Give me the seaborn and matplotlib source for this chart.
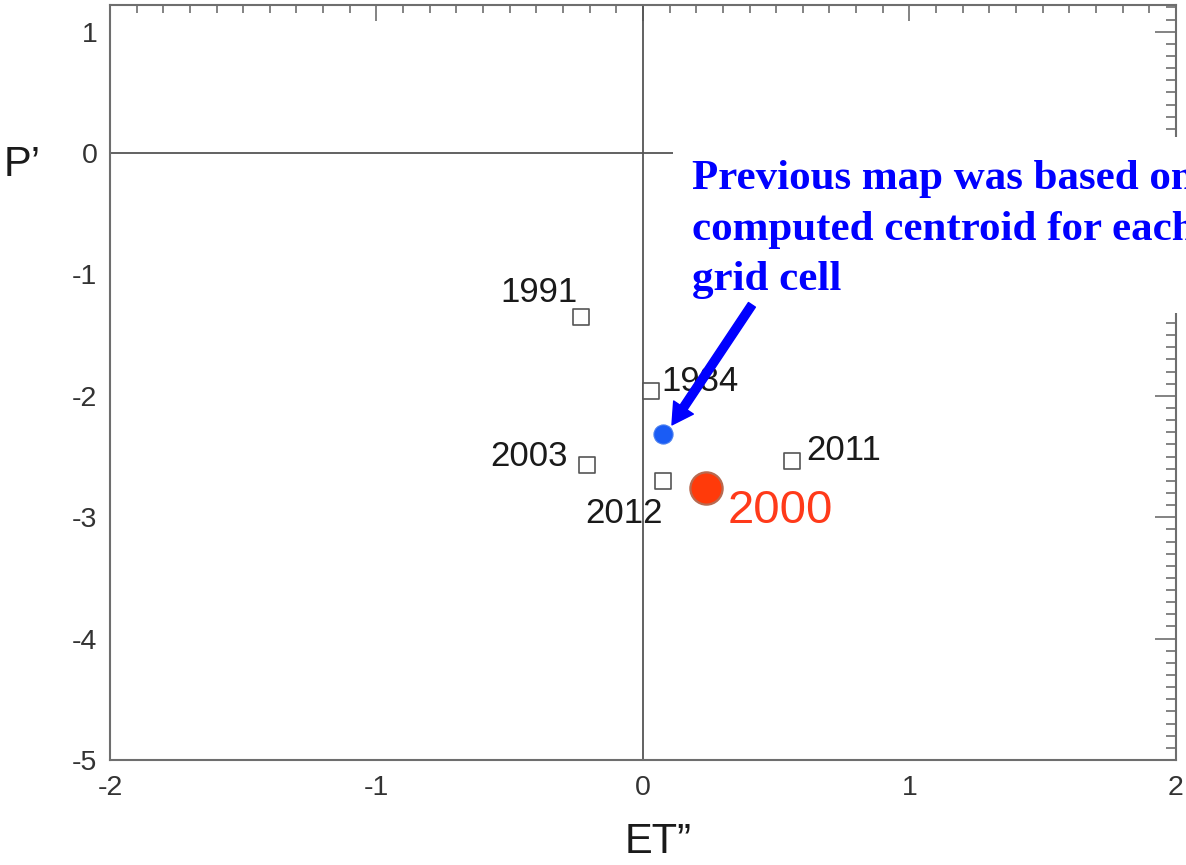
import matplotlib
matplotlib.use("Agg")
import matplotlib.pyplot as plt
from matplotlib.patches import Rectangle, FancyArrowPatch
from matplotlib.ticker import MultipleLocator
import seaborn as sns
import pandas as pd

# ---------------- data ----------------
years = ["1991", "1984", "2003", "2012", "2011"]
et_vals = [-0.233, 0.029, -0.208, 0.074, 0.560]
p_vals = [-1.352, -1.957, -2.569, -2.701, -2.536]

centroid_et = [0.076]
centroid_p = [-2.313]

hl_year = ["2000"]
hl_et = [0.235]
hl_p = [-2.761]

x_ticks = [-2, -1, 0, 1, 2]
y_ticks = [-5, -4, -3, -2, -1, 0, 1]

note_lines = ["Previous map was based on",
              "computed centroid for each",
              "grid cell"]

# ---------------- style ----------------
sns.set_theme(style="white")
plt.rcParams["font.family"] = ["Liberation Sans", "DejaVu Sans"]

AX_COL = "#6e6e6e"
label_offsets = {  # points, (dx, dy), ha
    "1991": ((-2, 11), "right"),
    "1984": ((8, 0), "left"),
    "2003": ((-14, -1), "right"),
    "2012": ((0, -30), "right"),
    "2011": ((10, 1), "left"),
}

df = pd.DataFrame({"ET": et_vals, "P": p_vals, "year": years})
df_c = pd.DataFrame({"ET": centroid_et, "P": centroid_p})
df_h = pd.DataFrame({"ET": hl_et, "P": hl_p, "year": hl_year})

fig = plt.figure(figsize=(11.86, 8.65), dpi=100)
ax = fig.add_axes([0.0927, 0.1214, 0.8988, 0.8728])

ax.axhline(0, color="#555555", lw=1.3, zorder=1)
ax.axvline(0, color="#555555", lw=1.3, zorder=1)

sns.scatterplot(data=df, x="ET", y="P", marker="s", s=120,
                facecolor="white", edgecolor="#555555", linewidth=1.2,
                ax=ax, zorder=3)
sns.scatterplot(data=df_c, x="ET", y="P", marker="o", s=190,
                color="#1a5cf5", edgecolor="#4a80f0", linewidth=0.8,
                ax=ax, zorder=3)
sns.scatterplot(data=df_h, x="ET", y="P", marker="o", s=540,
                color="#ff3a0a", edgecolor="#b86a50", linewidth=1.6,
                ax=ax, zorder=3)

for yr, x, y in zip(df["year"], df["ET"], df["P"]):
    (dx, dy), ha = label_offsets[yr]
    ax.annotate(yr, (x, y), xytext=(dx, dy), textcoords="offset points",
                ha=ha, va="baseline", fontsize=25, color="#1a1a1a", zorder=4)
for yr, x, y in zip(df_h["year"], df_h["ET"], df_h["P"]):
    ax.annotate(yr, (x, y), xytext=(16, -25), textcoords="offset points",
                ha="left", va="baseline", fontsize=34, color="#ff3a1a", zorder=4)

ax.set_xlim(-2, 2)
ax.set_ylim(-5, 1.22)
ax.set_xticks(x_ticks)
ax.set_yticks(y_ticks)
ax.set_xticklabels([str(t) for t in x_ticks])
ax.set_yticklabels([str(t) for t in y_ticks])
ax.xaxis.set_minor_locator(MultipleLocator(0.1))
ax.yaxis.set_minor_locator(MultipleLocator(0.1))
ax.tick_params(which="both", direction="in", top=True, right=True,
               color=AX_COL, width=1.2, labelsize=20.5, labelcolor="#333333")
ax.tick_params(axis="y", which="major", length=15, pad=9)
ax.tick_params(axis="y", which="minor", length=7)
ax.tick_params(axis="x", which="major", length=11.5, pad=11)
ax.tick_params(axis="x", which="minor", length=5.5)
for sp in ax.spines.values():
    sp.set_color(AX_COL)
    sp.set_linewidth(1.5)

ax.set_xlabel("ET\u201d", fontsize=30, color="#1a1a1a")
ax.set_ylabel("P\u2019", fontsize=30, color="#1a1a1a", rotation=0)
ax.xaxis.label.set_va("center")
ax.xaxis.set_label_coords(0.514, -0.109)
ax.yaxis.label.set_va("center")
ax.yaxis.label.set_ha("center")
ax.yaxis.set_label_coords(-0.0826, 0.788)

# white note box covering part of the plot
box = Rectangle((673 / 1186, (865 - 313) / 865), 1.0, (313 - 137) / 865,
                transform=fig.transFigure, facecolor="white", edgecolor="none",
                clip_on=False, zorder=5)
ax.add_patch(box)

baselines_px = [189, 240, 290]
for line, by in zip(note_lines, baselines_px):
    ax.text(692 / 1186, (865 - by) / 865, line, transform=fig.transFigure,
            family=["Liberation Serif", "DejaVu Serif"], fontweight="bold",
            fontsize=31, color="#0000ff", ha="left", va="baseline",
            clip_on=False, zorder=6)

arrow = FancyArrowPatch((0.409, -1.25), (0.109, -2.239),
                        arrowstyle="simple,head_length=1.5,head_width=1.7,tail_width=0.6",
                        mutation_scale=10, color="#0000ff", shrinkA=0, shrinkB=0,
                        zorder=7, clip_on=False)
ax.add_patch(arrow)

fig.savefig("out.png", dpi=100)
